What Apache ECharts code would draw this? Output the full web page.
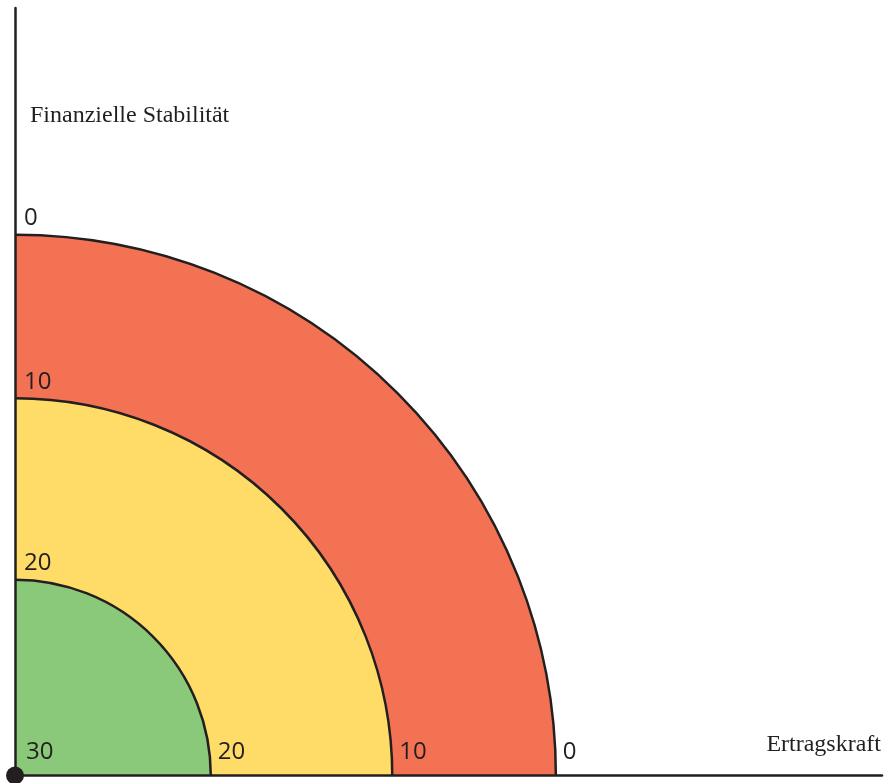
<!DOCTYPE html>
<html>
<head>
<meta charset="utf-8">
<script src="https://cdn.jsdelivr.net/npm/echarts@6/dist/echarts.min.js"></script>
<style>html,body{margin:0;padding:0;background:#fff}#c{width:884px;height:783px}</style>
</head>
<body>
<div id="c"></div>
<script>
// ---- data ----
const levelLabels = ['0', '10', '20', '30'];           // score at each boundary
const levelRadius = [100, 69.75, 36.2, 0];             // boundary radius (outer arc = 100)
const bands = ['rot', 'gelb', 'grün'];                  // bands, outer to inner
const bandOuterRadius = [100, 69.75, 36.2];
const xAxisName = 'Ertragskraft';
const yAxisName = 'Finanzielle Stabilität';

// ---- styles ----
const bandColors = ['#F37254', '#FFDC67', '#8BC97A'];
const ink = '#231f20';

const chart = echarts.init(document.getElementById('c'), null, {renderer: 'canvas'});

const bandData = bands.map((b, i) => ({name: b, value: [bandOuterRadius[i]]}));
const labelData = levelLabels.map((l, i) => ({name: l, value: [levelRadius[i]]}));

chart.setOption({
  animation: false,
  grid: {left: 15, right: 2, top: 8, bottom: 7.5, containLabel: false},
  xAxis: {
    type: 'value', min: 0, max: 160.3, z: 10,
    axisLine: {show: true, lineStyle: {color: ink, width: 2.5}},
    axisTick: {show: false}, axisLabel: {show: false}, splitLine: {show: false}
  },
  yAxis: {
    type: 'value', min: 0, max: 141.9, z: 10,
    axisLine: {show: true, lineStyle: {color: ink, width: 2.5}},
    axisTick: {show: false}, axisLabel: {show: false}, splitLine: {show: false}
  },
  graphic: [
    {type: 'text', left: 30, top: 104, z: 20,
     style: {text: yAxisName, font: '24px "Liberation Serif"', fill: ink}},
    {type: 'text', right: 3, top: 733, z: 20,
     style: {text: xAxisName, font: '24px "Liberation Serif"', fill: ink}}
  ],
  series: [
    {
      type: 'custom', coordinateSystem: 'cartesian2d', clip: false, z: 2,
      data: bandData,
      renderItem: function (params, api) {
        const r = api.value(0);
        const c = api.coord([0, 0]);
        const e = api.coord([r, 0]);
        const R = e[0] - c[0];
        return {
          type: 'group',
          children: [
            {type: 'sector', shape: {cx: c[0], cy: c[1], r0: 0, r: R, startAngle: -Math.PI / 2, endAngle: 0, clockwise: true},
             style: {fill: bandColors[params.dataIndex], stroke: null}},
            {type: 'arc', shape: {cx: c[0], cy: c[1], r: R, startAngle: -Math.PI / 2, endAngle: 0, clockwise: true},
             style: {stroke: ink, lineWidth: 2.5, fill: null}}
          ]
        };
      }
    },
    {
      type: 'custom', coordinateSystem: 'cartesian2d', clip: false, z: 15,
      data: labelData,
      renderItem: function (params, api) {
        const r = api.value(0);
        const c = api.coord([0, 0]);
        const px = api.coord([r, 0]);
        const py = api.coord([0, r]);
        const txt = levelLabels[params.dataIndex];
        const font = '24px "Open Sans"';
        const children = [];
        children.push({type: 'text', x: px[0] + (r === 0 ? 11 : 7), y: c[1] - 23,
          style: {text: txt, font: font, fill: ink, align: 'left', verticalAlign: 'middle'}});
        if (r !== 0) {
          children.push({type: 'text', x: c[0] + 9, y: py[1] - 16.5,
            style: {text: txt, font: font, fill: ink, align: 'left', verticalAlign: 'middle'}});
        }
        return {type: 'group', children: children};
      }
    },
    {
      type: 'scatter', clip: false, z: 20, symbol: 'circle', symbolSize: 18,
      itemStyle: {color: ink, opacity: 1}, emphasis: {disabled: true},
      data: [[0, 0]], silent: true
    }
  ]
});
</script>
</body>
</html>
